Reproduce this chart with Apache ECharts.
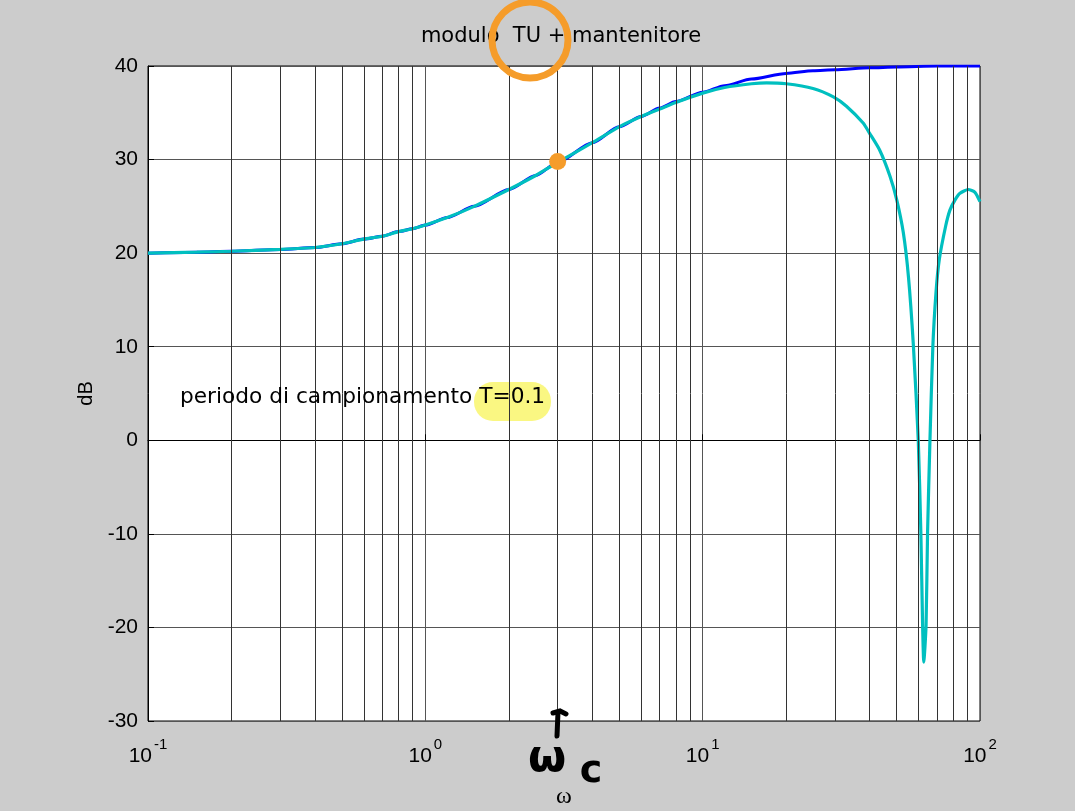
<!DOCTYPE html>
<html>
<head>
<meta charset="utf-8">
<script src="https://cdn.jsdelivr.net/npm/echarts@6/dist/echarts.min.js"></script>
<style>
html,body{margin:0;padding:0;background:#cccccc;overflow:hidden;}
#chart{width:1075px;height:811px;}
</style>
</head>
<body>
<div id="chart"></div>
<script>
// ---- data ----
const xTicks = [0.1, 1, 10, 100];
const yTicks = [-30, -20, -10, 0, 10, 20, 30, 40];
const minorOmega = [0.2,0.3,0.4,0.5,0.6,0.7,0.8,0.9,2,3,4,5,6,7,8,9,20,30,40,50,60,70,80,90];

// continuous system (blue)
const blueOmega = [0.1,0.15,0.2,0.3,0.4,0.5,0.6,0.7,0.8,0.9,1,1.2,1.5,2,2.5,3,4,5,6,7,8,10,12,15,20,25,30,40,50,70,100];
const blueDb    = [20.0,20.1,20.2,20.4,20.6,21.0,21.5,21.8,22.3,22.6,23.0,23.8,25.0,26.8,28.3,29.7,31.8,33.5,34.6,35.5,36.2,37.2,37.9,38.6,39.2,39.5,39.6,39.8,39.9,40.0,40.0];

// sampled system + zero-order hold (cyan)
const cyanOmega = [0.1,0.15,0.2,0.3,0.4,0.5,0.6,0.7,0.8,0.9,1,1.2,1.5,2,2.5,3,4,5,6,7,8,10,12,15,17,20,25,29.6,33,37.9,40,43.5,47.4,50.1,52.9,55.2,57.5,59.9,61.2,62.1,62.7,63.9,64.7,66.0,67.6,69.4,71.3,75.2,77.9,81.3,84.7,90.7,95.9,100];
const cyanDb    = [20.0,20.1,20.2,20.4,20.6,21.0,21.5,21.8,22.3,22.6,23.0,23.8,25.0,26.8,28.3,29.7,31.8,33.5,34.6,35.4,36.1,37.1,37.7,38.1,38.2,38.1,37.6,36.7,35.7,33.9,32.8,31.0,28.2,25.7,22.2,17.5,10.2,0.0,-9.9,-19.8,-23.7,-19.8,-9.9,0.0,10.0,15.8,19.3,22.9,24.6,25.7,26.4,26.8,26.5,25.5];

// highlighted point (omega_c)
const markOmega = [3];
const markDb = [29.8];

const titleText = 'modulo  TU + mantenitore';
const noteText = 'periodo di campionamento T=0.1';

const zip = (a, b) => a.map((v, i) => [v, b[i]]);

const chart = echarts.init(document.getElementById('chart'), null, {renderer: 'canvas'});
const SANS = '"Liberation Sans", Arial, Helvetica, sans-serif';
const WIDE = '"DejaVu Sans", Verdana, sans-serif';

const option = {
  backgroundColor: '#cccccc',
  animation: false,
  grid: {
    left: 148, right: 95, top: 66, bottom: 90,
    outerBoundsMode: 'none', containLabel: false,
    show: true, backgroundColor: '#ffffff', borderColor: '#000000', borderWidth: 1
  },
  xAxis: {
    type: 'log', logBase: 10, min: 0.1, max: 100,
    name: 'ω', nameLocation: 'middle', nameGap: 64,
    nameTextStyle: {fontFamily: '"Liberation Serif", "DejaVu Serif", serif', fontSize: 24, color: '#000'},
    axisLine: {show: true, lineStyle: {color: '#000', width: 1}},
    axisTick: {show: true, inside: true, length: 6, lineStyle: {color: '#000'}},
    splitLine: {show: true, lineStyle: {color: '#555', width: 1}},
    axisLabel: {
      show: true, margin: 16, showMinLabel: true, showMaxLabel: true,
      formatter: function (v) {
        const e = Math.round(Math.log10(v));
        return '{b|10}{s|' + e + '}';
      },
      rich: {
        b: {fontFamily: SANS, fontSize: 21, color: '#000'},
        s: {fontFamily: SANS, fontSize: 15, color: '#000', padding: [0, 0, 24, 2]}
      }
    }
  },
  yAxis: {
    type: 'value', min: -30, max: 40, interval: 10,
    name: 'dB', nameLocation: 'middle', nameGap: 52, nameRotate: 90,
    nameTextStyle: {fontFamily: SANS, fontSize: 20, color: '#000'},
    axisLine: {show: true, lineStyle: {color: '#000', width: 1}},
    axisTick: {show: true, inside: true, length: 6, lineStyle: {color: '#000'}},
    splitLine: {show: true, lineStyle: {color: '#555', width: 1}},
    axisLabel: {fontFamily: SANS, fontSize: 21, color: '#000', margin: 10}
  },
  series: [
    {
      name: 'grid', type: 'line', data: [], silent: true,
      markLine: {
        silent: true, symbol: ['none', 'none'], animation: false,
        label: {show: false},
        lineStyle: {color: '#333', width: 1, type: 'solid'},
        data: minorOmega.map(v => ({xAxis: v}))
      }
    },
    {
      name: 'continuo', type: 'line', data: zip(blueOmega, blueDb),
      showSymbol: false, smooth: 0.25, smoothMonotone: 'x',
      lineStyle: {color: '#0000ff', width: 3}, z: 3
    },
    {
      name: 'TU + mantenitore', type: 'line', data: zip(cyanOmega, cyanDb),
      showSymbol: false, smooth: 0.2,
      lineStyle: {color: '#00bfbf', width: 3.2}, z: 4
    },
    {
      name: 'wc', type: 'scatter', data: zip(markOmega, markDb),
      symbol: 'circle', symbolSize: 17,
      itemStyle: {color: '#f59c2a', opacity: 1}, z: 6
    }
  ],
  graphic: [
    {type: 'text', z: 10, style: {x: 561, y: 37, text: titleText, font: '21px ' + WIDE, fill: '#000', align: 'center', verticalAlign: 'middle'}},
    {type: 'rect', z: 5, shape: {x: 474, y: 382, width: 77, height: 39, r: 19}, style: {fill: 'rgba(246,242,47,0.6)'}},
    {type: 'text', z: 10, style: {x: 180, y: 397, text: noteText, font: '21.7px ' + WIDE, fill: '#000', align: 'left', verticalAlign: 'middle'}},
    {type: 'circle', z: 11, shape: {cx: 530, cy: 40, r: 38}, style: {fill: 'none', stroke: '#f59c2a', lineWidth: 7}},
    {type: 'polyline', z: 11, shape: {points: [[553, 713], [560, 711], [566, 714]]}, style: {stroke: '#000', lineWidth: 5, lineCap: 'round', fill: 'none'}},
    {type: 'polyline', z: 11, shape: {points: [[558, 712], [557, 736]]}, style: {stroke: '#000', lineWidth: 5, lineCap: 'round', fill: 'none'}},
    {type: 'text', z: 11, style: {x: 547, y: 760, text: 'ω', font: 'bold 44px "DejaVu Sans", sans-serif', fill: '#000', align: 'center', verticalAlign: 'middle'}},
    {type: 'text', z: 11, style: {x: 591, y: 772, text: 'c', font: 'bold 38px "DejaVu Sans", sans-serif', fill: '#000', align: 'center', verticalAlign: 'middle'}}
  ]
};
chart.setOption(option);
</script>
</body>
</html>
